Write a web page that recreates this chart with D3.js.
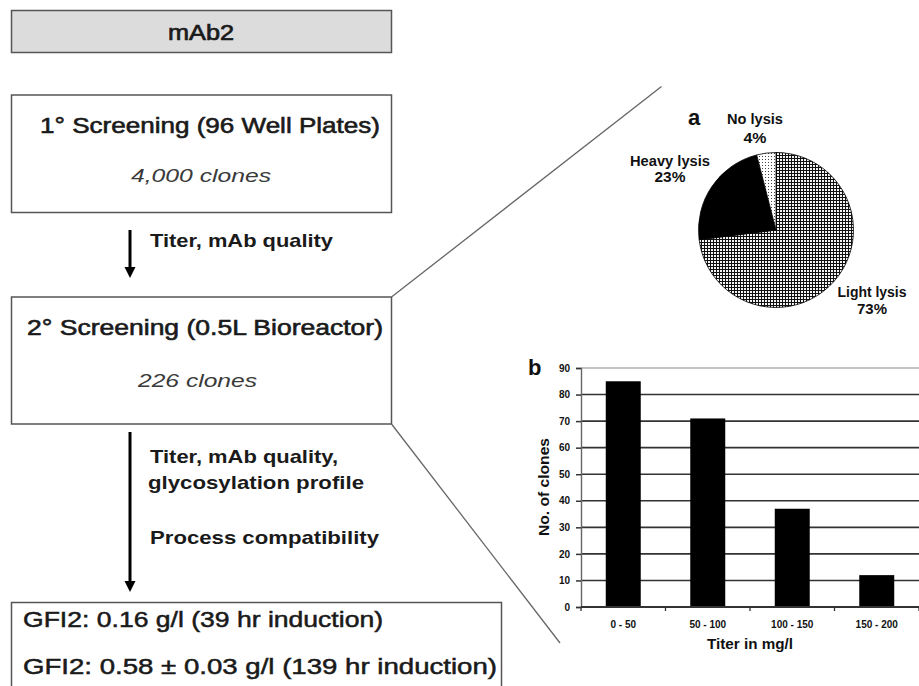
<!DOCTYPE html>
<html><head><meta charset="utf-8">
<script src="https://cdn.jsdelivr.net/npm/d3@7"></script>
<style>body{margin:0;background:#fff}svg{display:block}</style>
</head><body>
<script>
// ---- data ----
const pieLabels = ["Light lysis", "Heavy lysis", "No lysis"];
const pieValues = [73, 23, 4];
const barCategories = ["0 - 50", "50 - 100", "100 - 150", "150 - 200"];
const barValues = [85, 71, 37, 12];
const yTicks = [0, 10, 20, 30, 40, 50, 60, 70, 80, 90];
const flowTitle = "mAb2";
const step1 = ["1\u00B0 Screening (96 Well Plates)", "4,000 clones"];
const step2 = ["2\u00B0 Screening (0.5L Bioreactor)", "226 clones"];
const crit1 = ["Titer, mAb quality"];
const crit2 = ["Titer, mAb quality,", "glycosylation profile", "Process compatibility"];
const results = ["GFI2: 0.16 g/l (39 hr induction)", "GFI2: 0.58 \u00B1 0.03 g/l (139 hr induction)"];

const W = 919, H = 686;
const svg = d3.select("body").append("svg").attr("width", W).attr("height", H);
const defs = svg.append("defs");
// crosshatch pattern
const ph = defs.append("pattern").attr("id","hatch").attr("patternUnits","userSpaceOnUse")
  .attr("width",3).attr("height",3);
ph.append("rect").attr("width",3).attr("height",3).attr("fill","#f4f4f4");
ph.append("rect").attr("x",0).attr("y",0).attr("width",3).attr("height",1).attr("fill","#111");
ph.append("rect").attr("x",0).attr("y",0).attr("width",1).attr("height",3).attr("fill","#111");
// dots pattern
const pd = defs.append("pattern").attr("id","dots").attr("patternUnits","userSpaceOnUse")
  .attr("width",3).attr("height",3);
pd.append("rect").attr("width",3).attr("height",3).attr("fill","#fff");
pd.append("rect").attr("x",1).attr("y",1).attr("width",1).attr("height",1).attr("fill","#444");
const sliceFill = ["url(#hatch)", "#000", "url(#dots)"];

const FF = "'Liberation Sans', Arial, sans-serif";
function txt(g, s, x, y, len, size, opts = {}) {
  const t = g.append("text").attr("x", x).attr("y", y).text(s)
    .attr("font-family", FF).attr("font-size", size)
    .attr("fill", opts.fill || "#1a1a1a")
    .attr("font-weight", opts.weight || "normal")
    .attr("font-style", opts.style || "normal");
  if (opts.thick) t.attr("stroke", opts.fill || "#1a1a1a").attr("stroke-width", opts.thick);
  if (len) t.attr("textLength", len).attr("lengthAdjust", "spacingAndGlyphs");
  if (opts.anchor) t.attr("text-anchor", opts.anchor);
  return t;
}

// ---- flowchart ----
const fc = svg.append("g");
const boxStroke = "#555";
fc.append("rect").attr("x",11.5).attr("y",10.5).attr("width",380).attr("height",42)
  .attr("fill","#dcdcdc").attr("stroke",boxStroke).attr("stroke-width",1.5);
txt(fc, flowTitle, 168, 40, 66, 22, {thick:0.7});

fc.append("rect").attr("x",11.5).attr("y",95).attr("width",380).attr("height",117.5)
  .attr("fill","#fff").attr("stroke",boxStroke).attr("stroke-width",1.5);
txt(fc, step1[0], 40, 132.5, 340, 22, {thick:0.6});
txt(fc, step1[1], 131, 181.5, 140, 19, {style:"italic", fill:"#3a3a3a"});

fc.append("rect").attr("x",11.5).attr("y",297).attr("width",380).attr("height",127)
  .attr("fill","#fff").attr("stroke",boxStroke).attr("stroke-width",1.5);
txt(fc, step2[0], 27, 335, 356, 22, {thick:0.6});
txt(fc, step2[1], 138, 386.5, 119, 19, {style:"italic", fill:"#3a3a3a"});

fc.append("rect").attr("x",11.5).attr("y",602.5).attr("width",490).attr("height",100)
  .attr("fill","#fff").attr("stroke",boxStroke).attr("stroke-width",1.5);
txt(fc, results[0], 23, 627, 360, 22, {thick:0.5});
txt(fc, results[1], 23, 673.5, 474, 22, {thick:0.5});

// arrows
function arrow(x, y1, y2) {
  fc.append("line").attr("x1",x).attr("x2",x).attr("y1",y1).attr("y2",y2-9)
    .attr("stroke","#000").attr("stroke-width",3);
  fc.append("path").attr("d",`M${x-5.5},${y2-11}L${x+5.5},${y2-11}L${x},${y2}Z`).attr("fill","#000");
}
arrow(130, 230, 278);
arrow(130, 432, 592);
txt(fc, crit1[0], 150, 246.5, 183, 19, {weight:"bold"});
txt(fc, crit2[0], 150, 463, 188, 19, {weight:"bold"});
txt(fc, crit2[1], 148, 489, 216, 19, {weight:"bold"});
txt(fc, crit2[2], 150, 544, 229, 19, {weight:"bold"});

// zoom lines
fc.append("line").attr("x1",391.5).attr("y1",297).attr("x2",661.5).attr("y2",86.5)
  .attr("stroke","#666").attr("stroke-width",1.3);
fc.append("line").attr("x1",391.5).attr("y1",424).attr("x2",560).attr("y2",643)
  .attr("stroke","#666").attr("stroke-width",1.3);

// ---- pie (a) ----
const pg = svg.append("g").attr("transform","translate(776,230)");
const pie = d3.pie().sort(null)(pieValues);
const arc = d3.arc().innerRadius(0).outerRadius(77.5);
pg.selectAll("path").data(pie).join("path").attr("d", arc)
  .attr("fill", (d,i) => sliceFill[i]).attr("stroke","#000").attr("stroke-width",0.8);
const pl = svg.append("g");
txt(pl, "a", 688, 125, null, 22, {weight:"bold", fill:"#111"});
const pieLabelPos = [
  {x:872, y1:296.5, y2:313.5, w1:69, w2:30},
  {x:670, y1:166, y2:182, w1:80, w2:31},
  {x:755, y1:124, y2:142.5, w1:56, w2:23}
];
pieLabels.forEach((l,i) => {
  const p = pieLabelPos[i];
  txt(pl, l, p.x - p.w1/2, p.y1, p.w1, 14, {weight:"bold", fill:"#111"});
  txt(pl, pieValues[i] + "%", p.x - p.w2/2, p.y2, p.w2, 14, {weight:"bold", fill:"#111"});
});

// ---- bar chart (b) ----
const bg = svg.append("g");
const x = d3.scaleBand().domain(barCategories).range([581, 919]).paddingInner(0.586).paddingOuter(0.293);
const y = d3.scaleLinear().domain([0, 90]).range([607, 368]);
// gridlines
bg.selectAll("line.grid").data(yTicks.filter(t => t > 0)).join("line").attr("class","grid")
  .attr("x1",581).attr("x2",919).attr("y1",d=>y(d)).attr("y2",d=>y(d))
  .attr("stroke", d => d === 90 ? "#b0b0b0" : "#333").attr("stroke-width",1.6);
// bars
bg.selectAll("rect.bar").data(barValues).join("rect").attr("class","bar")
  .attr("x",(d,i)=>x(barCategories[i])).attr("width",x.bandwidth())
  .attr("y",d=>y(d)).attr("height",d=>y(0)-y(d)).attr("fill","#000");
// y axis
const yAxis = d3.axisLeft(y).tickValues(yTicks).tickSize(5).tickPadding(6);
const ya = bg.append("g").attr("transform","translate(581,0)").call(yAxis);
ya.select(".domain").attr("stroke","#666").attr("stroke-width",1.4);
ya.selectAll(".tick line").attr("stroke","#333").attr("stroke-width",1.5);
ya.selectAll(".tick text").attr("font-family",FF).attr("font-size",10).attr("font-weight","bold").attr("fill","#111");
// x axis
const xa = bg.append("g").attr("transform","translate(0,607)");
xa.append("line").attr("x1",581).attr("x2",919).attr("stroke","#333").attr("stroke-width",1.8);
xa.selectAll("line.xt").data(d3.range(barCategories.length + 1)).join("line").attr("class","xt")
  .attr("x1",i=>581 + i*x.step()).attr("x2",i=>581 + i*x.step()).attr("y1",0).attr("y2",4)
  .attr("stroke","#333").attr("stroke-width",1.3);
xa.selectAll("text").data(barCategories).join("text")
  .attr("x",d=>x(d)+x.bandwidth()/2).attr("y",20.5).attr("text-anchor","middle")
  .attr("font-family",FF).attr("font-size",10).attr("font-weight","bold").attr("fill","#111")
  .text(d=>d);
txt(bg, "Titer in mg/l", 707, 648.5, 86, 14, {weight:"bold", fill:"#111"});
bg.append("text").attr("transform","translate(549,487) rotate(-90)").attr("text-anchor","middle")
  .attr("font-family",FF).attr("font-size",14).attr("font-weight","bold").attr("fill","#111")
  .attr("textLength",98).attr("lengthAdjust","spacingAndGlyphs").attr("x",0).attr("y",0)
  .text("No. of clones");
txt(bg, "b", 528, 375, null, 22, {weight:"bold", fill:"#111"});
</script>
</body></html>
